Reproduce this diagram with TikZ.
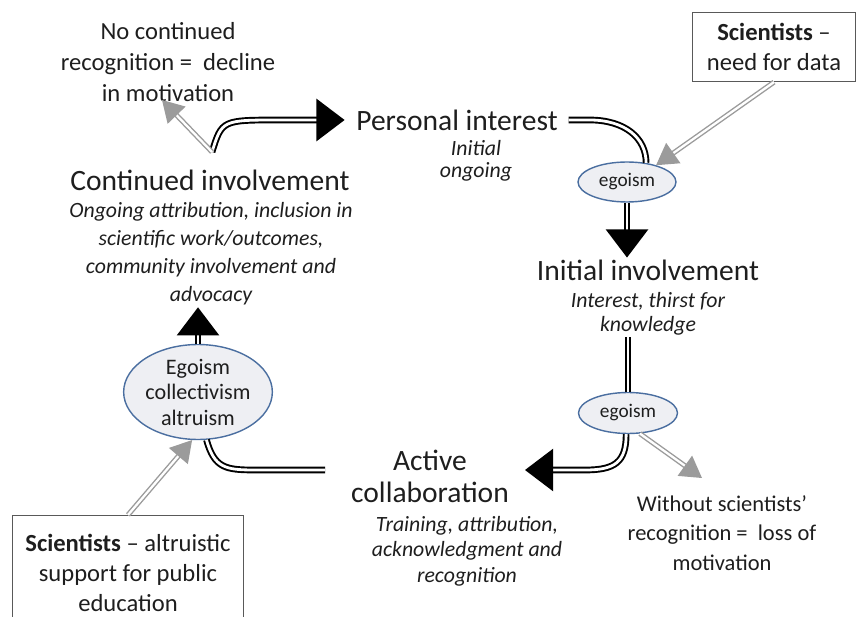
\documentclass[tikz,border=0pt]{standalone}
\usepackage{fontspec}
\setmainfont{Carlito}
\usetikzlibrary{arrows.meta,shapes.geometric}

\definecolor{egofill}{RGB}{238,239,243}
\definecolor{egoline}{RGB}{74,110,160}
\definecolor{txtcol}{RGB}{30,30,30}
\definecolor{grayarr}{RGB}{155,155,155}

\tikzset{
  stage/.style={font=\fontsize{16.8}{18.2}\selectfont, align=center, inner sep=1pt, text=txtcol},
  detail/.style={font=\fontsize{12.4}{14.6}\selectfont\itshape, align=center, inner sep=1pt, text=txtcol},
  note/.style={font=\fontsize{13.4}{16.8}\selectfont, align=center, inner sep=1pt, text=txtcol},
  sbox/.style={draw=black!65, line width=0.7pt, font=\fontsize{14}{17}\selectfont, align=center, text=txtcol},
  ego/.style={ellipse, draw=egoline, fill=egofill, line width=0.8pt, align=center,
    font=\fontsize{11}{13}\selectfont, inner sep=0pt, text=txtcol},
  dbl/.style={draw=black, double=white, line width=1.1pt, double distance=1.6pt},
  blk/.style={dbl, -{Triangle[width=24pt,length=16pt]}},
  gry/.style={draw=grayarr, double=white, line width=0.8pt, double distance=1.3pt,
    -{Triangle[width=14pt,length=12pt]}},
}

\begin{document}
\begin{tikzpicture}[x=0.02cm,y=-0.02cm]
\useasboundingbox (0,0) rectangle (857,617);

% stages of the cycle
\node[stage] (personal) at (457,120) {Personal interest};
\node[detail, font=\fontsize{12.4}{12.8}\selectfont\itshape] (initial) at (476,161) {Initial\\ongoing};
\node[stage] (initinv) at (648,270) {Initial involvement};
\node[detail, font=\fontsize{12.4}{13.6}\selectfont\itshape] (thirst) at (648,314) {Interest, thirst for\\knowledge};
\node[stage] (active) at (430,476) {Active\\collaboration};
\node[detail] (training) at (467,551) {Training, attribution,\\acknowledgment and\\recognition};
\node[stage] (contin) at (210,180) {Continued involvement};
\node[detail, font=\fontsize{12.4}{15.9}\selectfont\itshape] (ongoing) at (211,254)
  {Ongoing attribution, inclusion in\\scientific work/outcomes,\\community involvement and\\advocacy};

% motives
\node[ego, minimum width=1.96cm, minimum height=0.8cm] (ego1) at (627,182) {egoism};
\node[ego, minimum width=1.98cm, minimum height=0.82cm] (ego2) at (628,413) {egoism};
\node[ego, minimum width=2.94cm, minimum height=1.9cm, font=\fontsize{12.6}{14.5}\selectfont] (ego3) at (198,392)
  {Egoism\\collectivism\\altruism};

% side notes
\node[note, font=\fontsize{14}{17.4}\selectfont] (decline) at (168,62) {No continued\\recognition = \ decline\\in motivation};
\node[note, font=\fontsize{12.8}{16.6}\selectfont] (loss) at (722,533) {Without scientists'\\recognition = \ loss of\\motivation};
\node[sbox, minimum width=3.26cm, minimum height=1.38cm] (needdata) at (774,47) {\textbf{Scientists} --\\need for data};
\node[sbox, minimum width=4.62cm, minimum height=2.3cm] (altru) at (128,573)
  {\textbf{Scientists} -- altruistic\\support for public\\education};

\coordinate (fork) at (212,152);
\coordinate (declinetip) at (162,100);
\coordinate (acttip) at (525,470);
\coordinate (bend) at (325,470);
\coordinate (losstip) at (702,478);

% cycle
\draw[blk, shorten >=5.5pt] (fork) .. controls (222,120) .. (280,120) -- (personal.west);
\draw[dbl, shorten <=5pt] (personal.east) -- ++(30,0) .. controls +(35,0) and +(0,-25) .. (ego1.45);
\draw[blk] (ego1.south) -- (ego1.south |- initinv.north);
\draw[dbl] (ego2.north |- thirst.south) -- (ego2.north);
\draw[blk] (ego2.-95) .. controls +(0,28) and +(30,0) .. (585,470) -- (acttip);
\draw[dbl] (ego3.-80) .. controls +(8,28) and +(-30,0) .. (255,470) -- (bend);
\draw[blk] (ego3.north) -- (ego3.north |- ongoing.south);

% outside influences
\draw[gry] (fork) -- (declinetip);
\draw[gry] (needdata.south) -- (ego1.30);
\draw[gry] (ego2.-60) -- (losstip);
\draw[gry] (altru.north) -- (ego3.-97);
\end{tikzpicture}
\end{document}
